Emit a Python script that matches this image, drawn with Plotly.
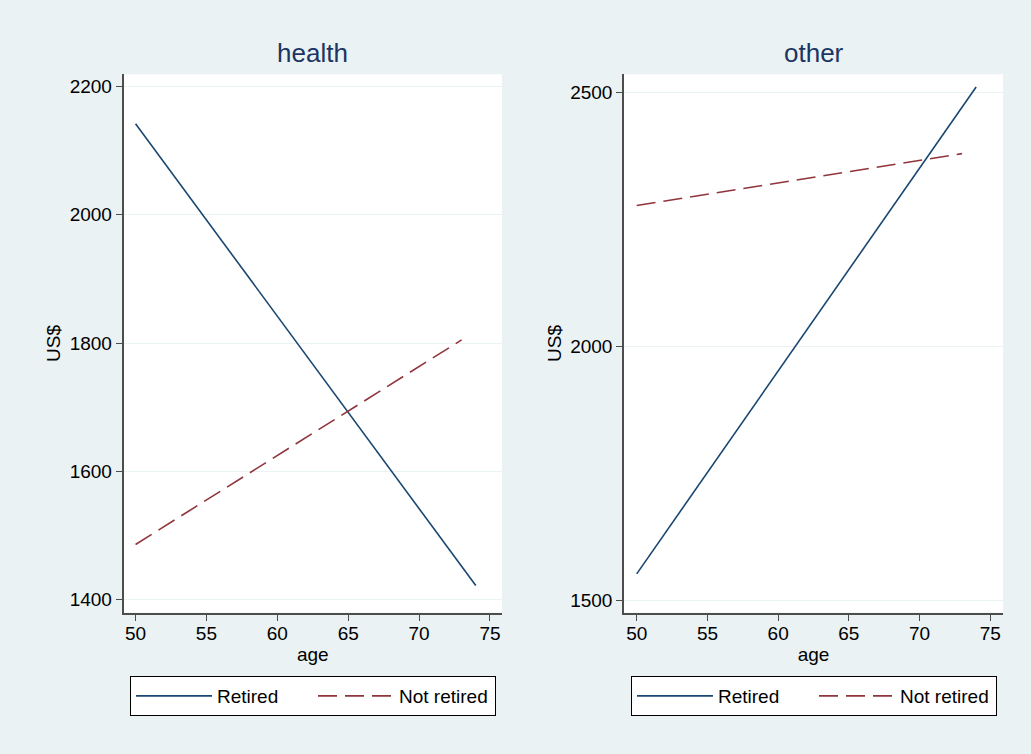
import plotly.graph_objects as go
from plotly.subplots import make_subplots

# Data
panels = ["health", "other"]
age_retired = [50, 74]
age_not_retired = [50, 73]
health_retired = [2142, 1422]
health_not_retired = [1486, 1805]
other_retired = [1553, 2510]
other_not_retired = [2277, 2379]
series_names = ["Retired", "Not retired"]

x_ticks = [50, 55, 60, 65, 70, 75]
health_yticks = [1400, 1600, 1800, 2000, 2200]
other_yticks = [1500, 2000, 2500]

NAVY = "#1a476f"
MAROON = "#90353b"
BG = "#eaf2f3"
AXIS = "#4d4d4d"
FONT = "Liberation Sans, Arial, sans-serif"

fig = make_subplots(rows=1, cols=2)

fig.add_trace(go.Scatter(x=age_retired, y=health_retired, mode="lines", name=series_names[0],
                         line=dict(color=NAVY, width=1.6), legend="legend"), row=1, col=1)
fig.add_trace(go.Scatter(x=age_not_retired, y=health_not_retired, mode="lines", name=series_names[1],
                         line=dict(color=MAROON, width=1.6, dash="19px,8px"), legend="legend"), row=1, col=1)
fig.add_trace(go.Scatter(x=age_retired, y=other_retired, mode="lines", name=series_names[0],
                         line=dict(color=NAVY, width=1.6), legend="legend2"), row=1, col=2)
fig.add_trace(go.Scatter(x=age_not_retired, y=other_not_retired, mode="lines", name=series_names[1],
                         line=dict(color=MAROON, width=1.6, dash="19px,8px"), legend="legend2"), row=1, col=2)

W, H = 1031, 754
ydom = [1 - 612.5 / H, 1 - 74.3 / H]
x1dom = [123.5 / W, 502 / W]
x2dom = [624 / W, 1003 / W]

common_x = dict(tickvals=x_ticks, ticks="outside", ticklen=7, tickwidth=1.2, tickcolor=AXIS,
                showline=True, linecolor=AXIS, linewidth=1.5, showgrid=False, zeroline=False,
                tickfont=dict(size=19, color="black"), ticklabelstandoff=-4,
                title=dict(text="age", font=dict(size=19, color="black"), standoff=5))
common_y = dict(ticks="outside", ticklen=6, tickwidth=1.2, tickcolor=AXIS,
                showline=True, linecolor=AXIS, linewidth=1.5, showgrid=True, gridcolor=BG,
                gridwidth=1.2, zeroline=False, tickfont=dict(size=19, color="black"),
                title=dict(text="US$", font=dict(size=19, color="black"), standoff=4))

fig.update_xaxes(**common_x)
fig.update_yaxes(**common_y)
fig.update_layout(
    xaxis=dict(domain=x1dom, range=[49.15, 75.85]),
    xaxis2=dict(domain=x2dom, range=[49.1, 75.9]),
    yaxis=dict(domain=ydom, range=[1380, 2219], tickvals=health_yticks),
    yaxis2=dict(domain=ydom, range=[1477, 2535], tickvals=other_yticks),
)

for i, name in enumerate(panels):
    dom = x1dom if i == 0 else x2dom
    fig.add_annotation(text=name, x=(dom[0] + dom[1]) / 2, y=1 - 53 / H, xref="paper", yref="paper",
                       xanchor="center", yanchor="middle", showarrow=False,
                       font=dict(size=26, color="#1c3562", family=FONT))

legend_style = dict(orientation="h", xanchor="left", yanchor="top", bgcolor="white",
                    bordercolor="black", borderwidth=1, font=dict(size=19, color="black", family=FONT),
                    entrywidth=91, itemwidth=76, traceorder="normal")
fig.update_layout(
    legend=dict(x=130 / W, y=1 - 676 / H, **legend_style),
    legend2=dict(x=631 / W, y=1 - 676 / H, **legend_style),
)

fig.update_layout(
    width=W, height=H,
    margin=dict(l=0, r=0, t=0, b=0, autoexpand=False),
    paper_bgcolor=BG, plot_bgcolor="white",
    font=dict(family=FONT, color="black"),
    showlegend=True,
)

fig.write_html("out.html", config={"displayModeBar": False},
               post_script="document.body.style.margin='0';")
